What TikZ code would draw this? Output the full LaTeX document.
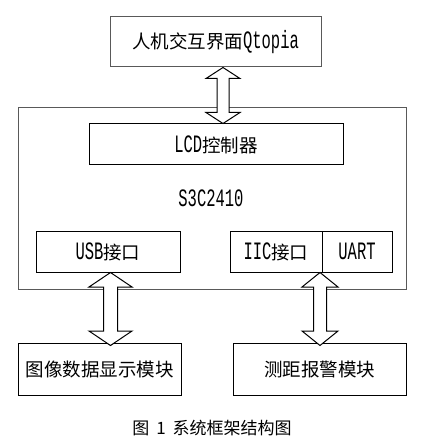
\documentclass[tikz,border=0pt]{standalone}
\usepackage{fontspec}
\setmainfont{Liberation Mono}[FakeStretch=0.62]
\newfontfamily\cjk{Noto Sans CJK SC}
\usetikzlibrary{calc}
\tikzset{
  box/.style={draw=black, line width=1pt, inner sep=0pt, font=\fontsize{25}{26}\selectfont},
  graybox/.style={box, draw=black!65},
  barrow/.style={draw=black, line width=1pt, fill=white, line join=miter},
}
\newcommand\blockarr[6]{%
  \draw[barrow] let \p1=(#2), \p2=(#3) in
    (#1pt,\y1) -- ({#1pt+#4pt},{\y1-#6pt}) -- ({#1pt+#5pt},{\y1-#6pt})
    -- ({#1pt+#5pt},{\y2+#6pt}) -- ({#1pt+#4pt},{\y2+#6pt}) -- (#1pt,\y2)
    -- ({#1pt-#4pt},{\y2+#6pt}) -- ({#1pt-#5pt},{\y2+#6pt})
    -- ({#1pt-#5pt},{\y1-#6pt}) -- ({#1pt-#4pt},{\y1-#6pt}) -- cycle;}
\newcommand\zh[1]{{\cjk\fontsize{18.5}{20}\selectfont #1}}
\begin{document}
\begin{tikzpicture}[x=1pt,y=-1pt]
\useasboundingbox (0,0) rectangle (422,446);
\fill[white] (0,0) rectangle (422,446);
% outer S3C2410 box
\node[graybox, minimum width=388pt, minimum height=181pt] (main) at (212,198.5) {};
\node[font=\fontsize{25}{26}\selectfont] (chip) at (211,198) {S3C2410};
% top box
\node[graybox, minimum width=211pt, minimum height=50pt] (top) at (215.5,42) {\zh{人机交互界面}Qtopia};
% lower modules
\node[box, minimum width=163pt, minimum height=52pt] (img) at (99.5,369) {\zh{图像数据显示模块}};
\node[box, minimum width=173pt, minimum height=52pt] (dist) at (319.5,369) {\zh{测距报警模块}};
% inner boxes
\node[box, minimum width=254pt, minimum height=41pt] (lcd) at (216,144.5) {LCD\zh{控制器}};
\node[box, minimum width=144pt, minimum height=41pt] (usb) at (108,251.5) {USB\zh{接口}};
\node[box, minimum width=92pt, minimum height=41pt] (iic) at (276,251.5) {IIC\zh{接口}};
\node[box, minimum width=70pt, minimum height=41pt] (uart) at (357,251.5) {UART};
% arrows
\coordinate (t1) at ($(top.south)+(7.5,0)$);
\coordinate (b1) at ($(lcd.north)+(7,0)$);
\blockarr{223}{t1}{b1}{17}{6}{11}
\coordinate (t2) at ($(usb.south)+(2.5,0)$);
\coordinate (b2) at ($(img.north)+(11,3)$);
\blockarr{110.5}{t2}{b2}{21.5}{7}{14.5}
\coordinate (t3) at (iic.south east);
\coordinate (b3) at ($(dist.north)+(0.5,3)$);
\blockarr{320}{t3}{b3}{18}{6.5}{14.5}
% caption
\node[font=\cjk\fontsize{17}{20}\selectfont] (cap) at (212,428) {图\hspace{7pt}1\hspace{7pt}系统框架结构图};
\end{tikzpicture}
\end{document}
